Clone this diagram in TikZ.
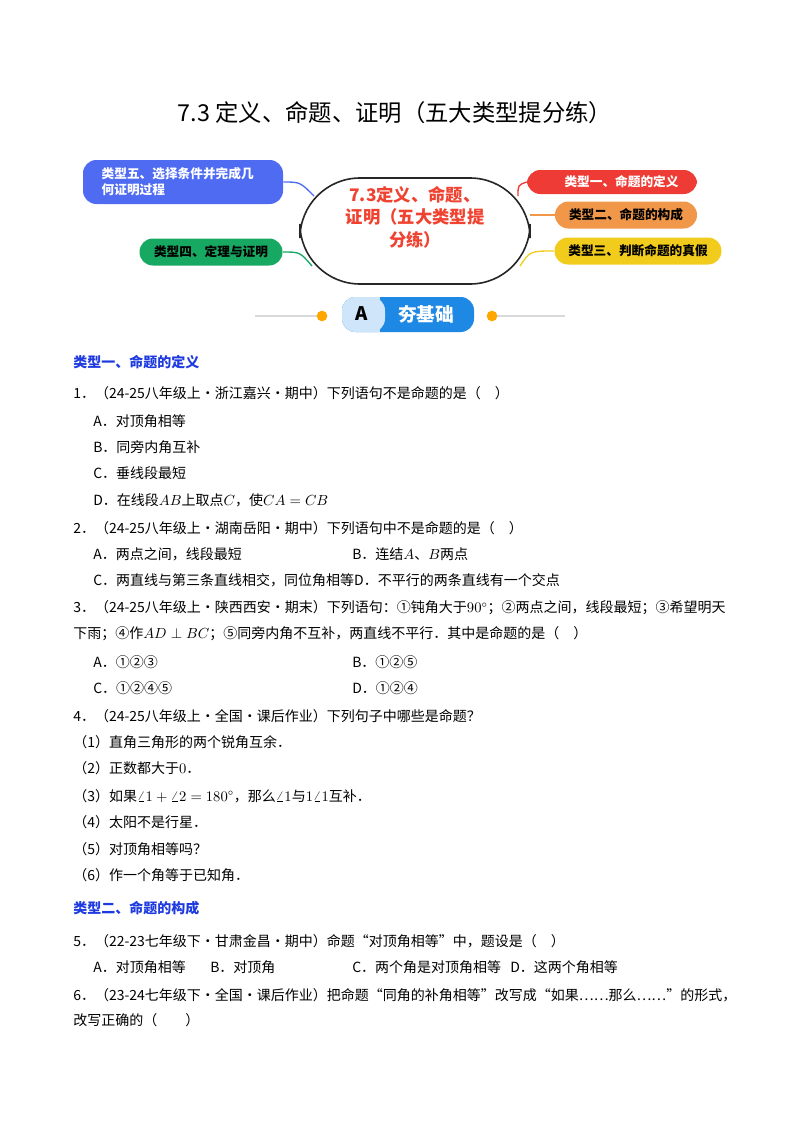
\documentclass[tikz,border=0pt]{standalone}
\usepackage{fontspec}
\setmainfont{Noto Sans CJK SC}
\usetikzlibrary{calc}
\definecolor{qblue}{HTML}{1F3BE0}
\definecolor{mblue}{HTML}{4F6BF2}
\definecolor{mred}{HTML}{EE3B35}
\definecolor{morange}{HTML}{F0974A}
\definecolor{myellow}{HTML}{F2CC1C}
\definecolor{mgreen}{HTML}{17A862}
\definecolor{bblue}{HTML}{1E88E5}
\definecolor{lblue}{HTML}{CFE6FA}
\begin{document}
\begin{tikzpicture}[x=0.75pt,y=-0.75pt,
  tx/.style={anchor=west,inner sep=0pt,font=\fontsize{10.5pt}{12pt}\selectfont},
  hd/.style={anchor=west,inner sep=0pt,font=\fontsize{10.5pt}{12pt}\selectfont\bfseries,text=qblue},
  leaf/.style={rounded corners=10pt,text=white,font=\fontsize{9.5pt}{11pt}\selectfont\bfseries,inner sep=0pt,align=left}]
\useasboundingbox (0,0) rectangle (800,1132);
\node (title) at (395,113) {\fontsize{17.5pt}{20pt}\selectfont 7.3 定义、命题、证明（五大类型提分练）};
% mind map
\node[draw=black!85,line width=1.2pt,fill=white,rounded corners=45pt,minimum width=230*0.75pt,minimum height=106*0.75pt,inner sep=0pt] (c) at (415,231) {};
\coordinate (cnw) at (314,196);
\coordinate (cne) at (518,196);
\coordinate (csw) at (312,266);
\coordinate (cse) at (520,266);
\coordinate (ce) at (530,215);
\node[align=center,text=mred!90!orange,font=\fontsize{13pt}{17pt}\selectfont\bfseries] (ct) at (415,217) {7.3定义、命题、\\证明（五大类型提\\分练）};
\node[leaf,fill=mblue,minimum width=200*0.75pt,minimum height=44*0.75pt] (n5) at (183,182) {};
\node[anchor=west,text=white,font=\fontsize{9.5pt}{12pt}\selectfont\bfseries,align=left] (n5t) at (97,182) {类型五、选择条件并完成几\\何证明过程};
\node[leaf,fill=mred,minimum width=170*0.75pt,minimum height=24*0.75pt] (n1) at (612,182) {\hspace*{1.5em}类型一、命题的定义\hfill};
\node[leaf,fill=morange,minimum width=142*0.75pt,minimum height=27*0.75pt,text=black] (n2) at (626,215) {类型二、命题的构成};
\node[leaf,fill=myellow,minimum width=167*0.75pt,minimum height=27*0.75pt,text=black] (n3) at (638,251) {类型三、判断命题的真假};
\node[leaf,fill=mgreen,minimum width=143*0.75pt,minimum height=27*0.75pt,text=black] (n4) at (211,252) {类型四、定理与证明};
\draw[mblue,line width=1pt] (n5.east) .. controls (300,182) .. (cnw);
\draw[mred,line width=1pt] (cne) .. controls (518,185) .. (n1.west);
\draw[morange,line width=1.5pt] (ce) -- (n2.west);
\draw[myellow,line width=1pt] (cse) .. controls (530,251) .. (n3.west);
\draw[mgreen,line width=1pt] (csw) .. controls (300,252) .. (n4.east);
% banner
\coordinate (l1) at (255,316); \coordinate (r1) at (565,316);
\draw[black!15,line width=1pt] (l1) -- (322,316);
\draw[black!15,line width=1pt] (492,316) -- (r1);
\fill[orange!70!yellow] (322,316) circle (4pt);
\fill[orange!70!yellow] (492,316) circle (4pt);
\fill[bblue,rounded corners=10pt] (342,297) rectangle (474,332);
\fill[lblue,rounded corners=10pt] (342,297) rectangle (385,332);
\fill[lblue] (370,297) rectangle (380,332);
\node[font=\fontsize{14pt}{16pt}\selectfont\bfseries] (ba) at (362,314) {A};
\node[font=\fontsize{14pt}{16pt}\selectfont\bfseries,text=white] (bb) at (426,314) {夯基础};
% body
\node[hd] (h1) at (73,362) {类型一、命题的定义};
\node[tx] at (73,393) {1．（24-25八年级上·浙江嘉兴·期中）下列语句不是命题的是（　）};
\node[tx] at (93,421) {A．对顶角相等};
\node[tx] at (93,447) {B．同旁内角互补};
\node[tx] at (93,473) {C．垂线段最短};
\node[tx] at (93,500) {D．在线段$AB$上取点$C$，使$CA=CB$};
\node[tx] at (73,528) {2．（24-25八年级上·湖南岳阳·期中）下列语句中不是命题的是（　）};
\node[tx] at (93,554) {A．两点之间，线段最短};
\node[tx] at (352,554) {B．连结$A$、$B$两点};
\node[tx] at (93,580) {C．两直线与第三条直线相交，同位角相等D．不平行的两条直线有一个交点};
\node[tx] at (73,608) {3．（24-25八年级上·陕西西安·期末）下列语句：①钝角大于$90^\circ$；②两点之间，线段最短；③希望明天};
\node[tx] at (73,634) {下雨；④作$AD\perp BC$；⑤同旁内角不互补，两直线不平行．其中是命题的是（　）};
\node[tx] at (93,662) {A．①②③};
\node[tx] at (352,662) {B．①②⑤};
\node[tx] at (93,688) {C．①②④⑤};
\node[tx] at (352,688) {D．①②④};
\node[tx] at (73,716) {4．（24-25八年级上·全国·课后作业）下列句子中哪些是命题？};
\node[tx] at (73,742) {（1）直角三角形的两个锐角互余．};
\node[tx] at (73,768) {（2）正数都大于$0$．};
\node[tx] at (73,796) {（3）如果$\angle1+\angle2=180^\circ$，那么$\angle1$与$1\angle1$互补．};
\node[tx] at (73,822) {（4）太阳不是行星．};
\node[tx] at (73,849) {（5）对顶角相等吗？};
\node[tx] at (73,875) {（6）作一个角等于已知角．};
\node[hd] (h2) at (73,908) {类型二、命题的构成};
\node[tx] at (73,941) {5．（22-23七年级下·甘肃金昌·期中）命题“对顶角相等”中，题设是（　）};
\node[tx] at (93,967) {A．对顶角相等};
\node[tx] at (210,967) {B．对顶角};
\node[tx] at (352,967) {C．两个角是对顶角相等};
\node[tx] at (510,967) {D．这两个角相等};
\node[tx] at (73,995) {6．（23-24七年级下·全国·课后作业）把命题“同角的补角相等”改写成“如果……那么……”的形式，};
\node[tx] at (73,1020) {改写正确的（　　）};
\end{tikzpicture}
\end{document}
